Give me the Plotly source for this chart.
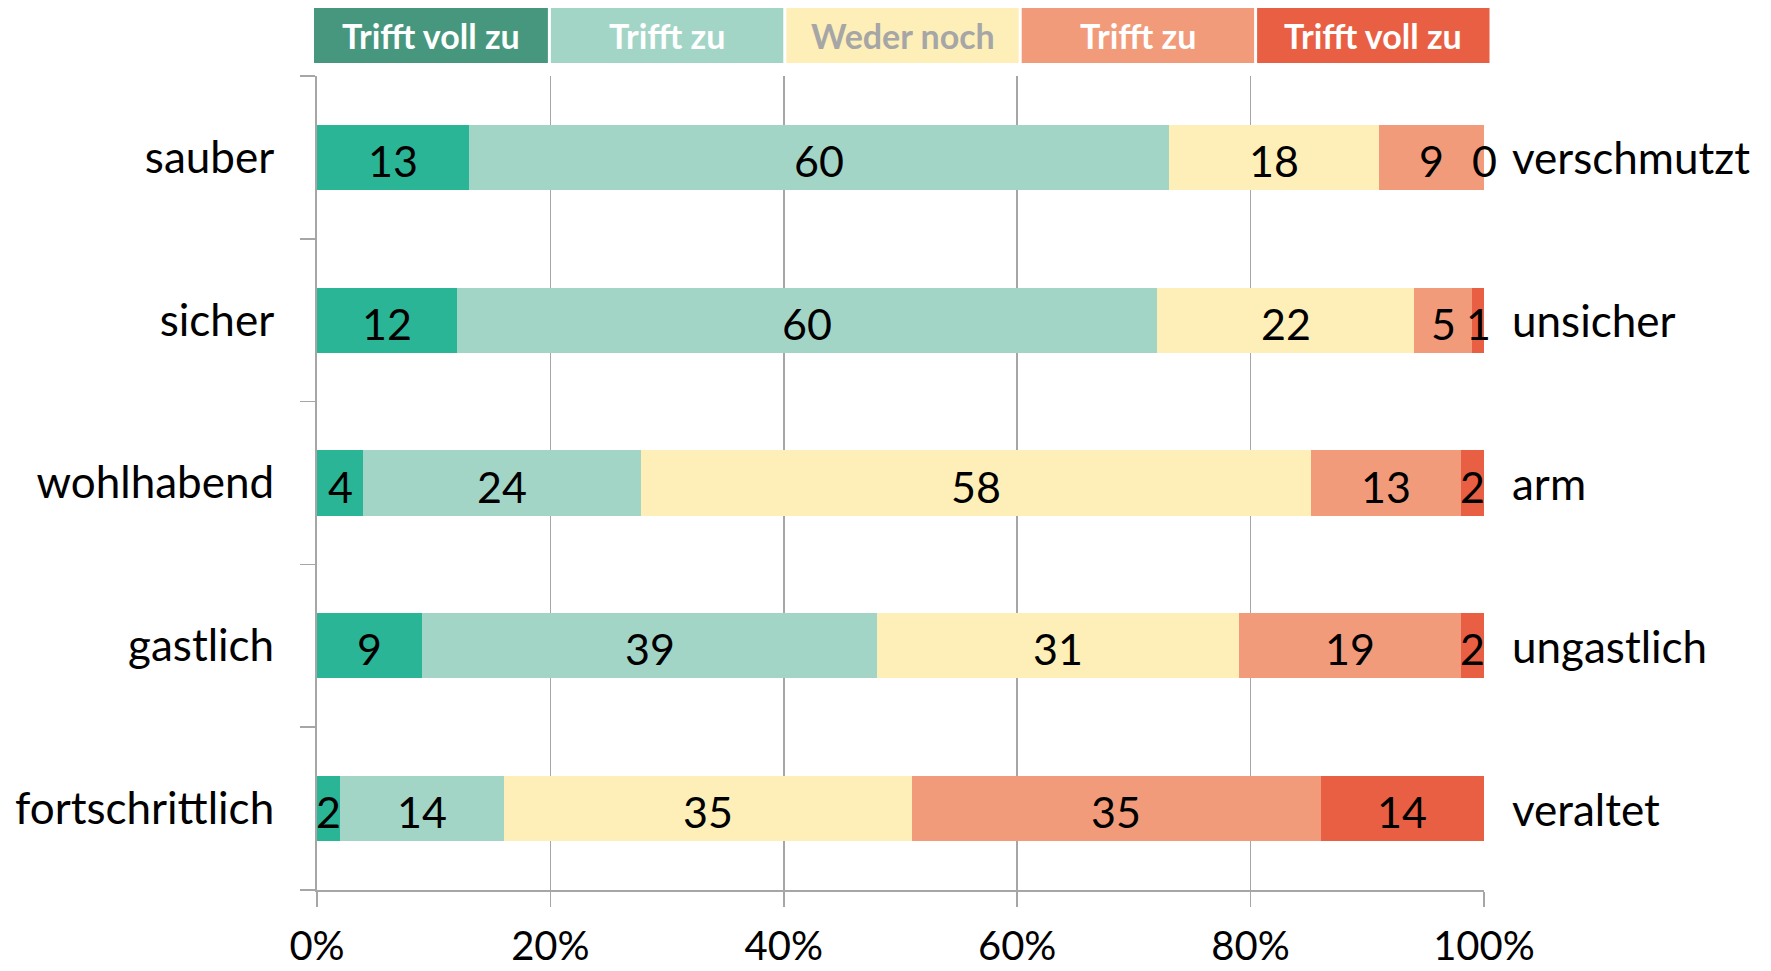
import plotly.graph_objects as go

categories = ["sauber", "sicher", "wohlhabend", "gastlich", "fortschrittlich"]
opposites = ["verschmutzt", "unsicher", "arm", "ungastlich", "veraltet"]
series_names = ["Trifft voll zu", "Trifft zu", "Weder noch", "Trifft zu", "Trifft voll zu"]
s1 = [13, 12, 4, 9, 2]
s2 = [60, 60, 24, 39, 14]
s3 = [18, 22, 58, 31, 35]
s4 = [9, 5, 13, 19, 35]
s5 = [0, 1, 2, 2, 14]
tick_vals = [0, 20, 40, 60, 80, 100]
tick_text = ["0%", "20%", "40%", "60%", "80%", "100%"]

bar_colors = ["#2BB597", "#A3D5C7", "#FEEFB9", "#F29B7A", "#E95F43"]
legend_colors = ["#46977E", "#A3D5C7", "#FEEFB9", "#F29B7A", "#E95F43"]
legend_text_colors = ["white", "white", "#A6A6A6", "white", "white"]

series = [s1, s2, s3, s4, s5]
totals = [sum(v) for v in zip(*series)]
FONT = "Lato"

fig = go.Figure()
cum = [0.0] * len(categories)
labels = []
for k, vals in enumerate(series):
    pct = [v / t * 100 for v, t in zip(vals, totals)]
    fig.add_trace(go.Bar(
        y=categories, x=pct, orientation="h", name=series_names[k],
        marker=dict(color=bar_colors[k], line=dict(width=0)),
        showlegend=False, hoverinfo="skip",
    ))
    for i, p in enumerate(pct):
        labels.append((cum[i] + p / 2, categories[i], str(vals[i])))
        cum[i] += p

for x, y, t in labels:
    fig.add_annotation(
        x=x, y=y, xref="x", yref="y", text=t, showarrow=False,
        xanchor="center", yanchor="middle", yshift=-3,
        font=dict(family=FONT, size=43, color="black"),
    )

W, H = 1771, 971
L, R, T, B = 317, 287, 76, 81
pw = W - L - R
ph = H - T - B

fig.update_layout(
    width=W, height=H,
    margin=dict(l=L, r=R, t=T, b=B, autoexpand=False),
    barmode="stack", bargap=0.6,
    plot_bgcolor="white", paper_bgcolor="white",
    font=dict(family=FONT, color="black"),
)
fig.update_xaxes(
    range=[0, 100], tickvals=tick_vals, ticktext=tick_text,
    showgrid=True, gridcolor="#A6A6A6", gridwidth=1.5,
    showline=True, linecolor="#A6A6A6", linewidth=2,
    ticks="outside", ticklen=15, tickcolor="#A6A6A6", tickwidth=1.5,
    tickfont=dict(family=FONT, size=40, color="black"),
    ticklabelstandoff=5, zeroline=False, fixedrange=True,
)
fig.update_yaxes(
    categoryorder="array", categoryarray=categories[::-1],
    autorange=False, range=[-0.5, 4.5],
    showline=True, linecolor="#A6A6A6", linewidth=2,
    ticks="outside", ticklen=15, tickcolor="#A6A6A6", tickwidth=1.5,
    tickson="boundaries", showgrid=False,
    tickfont=dict(family=FONT, size=44, color="black"),
    ticklabelstandoff=32, zeroline=False, fixedrange=True,
)

for cat, opp in zip(categories, opposites):
    fig.add_annotation(
        x=1, xref="paper", y=cat, yref="y", text=opp, showarrow=False,
        xanchor="left", yanchor="middle", xshift=26,
        font=dict(family=FONT, size=44, color="black"),
    )

# legend boxes
lx0, lx1 = 314, 1491
ly0, ly1 = 8, 63
bw = (lx1 - lx0) / 5
for k in range(5):
    x0 = lx0 + k * bw + (1.5 if k > 0 else 0)
    x1 = lx0 + (k + 1) * bw - 1.5
    px0 = (x0 - L) / pw
    px1 = (x1 - L) / pw
    py0 = (H - B - ly1) / ph
    py1 = (H - B - ly0) / ph
    fig.add_shape(type="rect", xref="paper", yref="paper",
                  x0=px0, x1=px1, y0=py0, y1=py1,
                  fillcolor=legend_colors[k], line=dict(width=0), layer="above")
    fig.add_annotation(
        x=(px0 + px1) / 2, y=(py0 + py1) / 2, xref="paper", yref="paper",
        text="<b>" + series_names[k] + "</b>", showarrow=False,
        xanchor="center", yanchor="middle",
        font=dict(family=FONT, size=34, color=legend_text_colors[k]),
    )

fig.write_html(
    "out.html",
    config={"displayModeBar": False, "staticPlot": True},
    post_script="document.body.style.margin='0';document.body.style.overflow='hidden';",
)
